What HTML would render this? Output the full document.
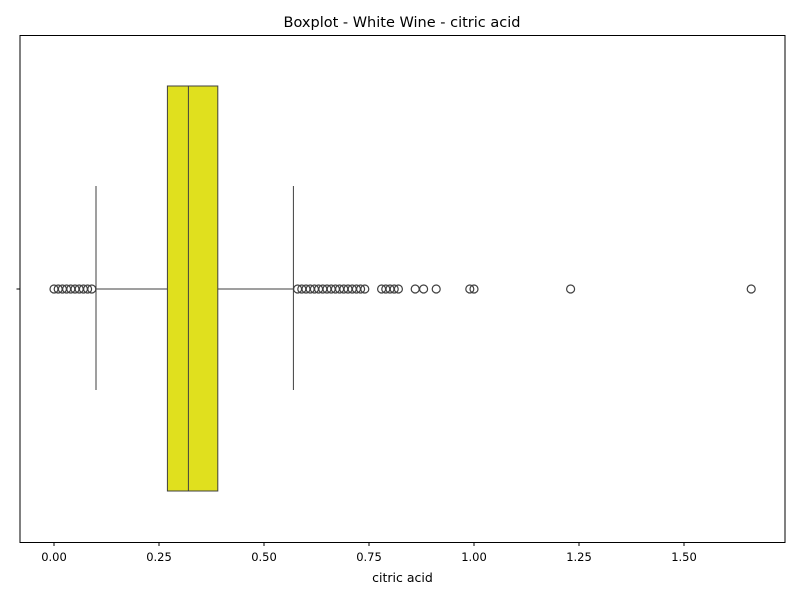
<!DOCTYPE html>
<html><head><meta charset="utf-8"><style>
body{margin:0;background:#fff;font-family:"Liberation Sans","DejaVu Sans",sans-serif}
svg text{font-family:"DejaVu Sans","Liberation Sans",sans-serif}
</style></head><body>
<svg id="chart" width="800" height="600">
<text x="402" y="27" text-anchor="middle" font-size="14.5">Boxplot - White Wine - citric acid</text>
<rect x="20" y="35.5" width="765" height="507" fill="none" stroke="#000" stroke-width="1"/>
<g id="g"></g>
<text x="402.5" y="582" text-anchor="middle" font-size="12.5">citric acid</text>
</svg>
<script>
const tickValues=[0,0.25,0.5,0.75,1.0,1.25,1.5];
const tickLabels=["0.00","0.25","0.50","0.75","1.00","1.25","1.50"];
const q1=[0.27], median=[0.32], q3=[0.39], whiskerLow=[0.10], whiskerHigh=[0.57];
const outliers=[0,0.01,0.02,0.03,0.04,0.05,0.06,0.07,0.08,0.09,
0.58,0.59,0.6,0.61,0.62,0.63,0.64,0.65,0.66,0.67,0.68,0.69,0.7,0.71,0.72,0.73,0.74,
0.78,0.79,0.8,0.81,0.82,0.86,0.88,0.91,0.99,1.0,1.23,1.66];
const xs=v=>54+420*v;
const cy=289, boxTop=86, boxBot=491, wTop=186, wBot=390;
const g=document.getElementById('g');
const NS='http://www.w3.org/2000/svg';
function mk(t,a){const e=document.createElementNS(NS,t);for(const k in a)e.setAttribute(k,a[k]);g.appendChild(e);return e;}
tickValues.forEach((v,i)=>{
 const l=mk('line',{x1:xs(v),x2:xs(v),y1:542.5,y2:546,stroke:'#000'});
 
 
 const t=mk('text',{x:xs(v),y:561,'text-anchor':'middle','font-size':'11.5'});
 t.textContent=tickLabels[i];
 
 
});
const yt=mk('line',{x1:16.5,x2:20,y1:cy,y2:cy,stroke:'#000'});


const wl=mk('line',{x1:xs(whiskerLow[0]),x2:xs(q1[0]),y1:cy,y2:cy,stroke:'#3f3f3f'});


const wh=mk('line',{x1:xs(q3[0]),x2:xs(whiskerHigh[0]),y1:cy,y2:cy,stroke:'#3f3f3f'});


const c1=mk('line',{x1:xs(whiskerLow[0]),x2:xs(whiskerLow[0]),y1:wTop,y2:wBot,stroke:'#3f3f3f'});


const c2=mk('line',{x1:xs(whiskerHigh[0]),x2:xs(whiskerHigh[0]),y1:wTop,y2:wBot,stroke:'#3f3f3f'});


const b=mk('rect',{x:xs(q1[0]),y:boxTop,width:xs(q3[0])-xs(q1[0]),height:boxBot-boxTop,fill:'#e0e01e',stroke:'#3f3f3f'});


const m=mk('line',{x1:xs(median[0]),x2:xs(median[0]),y1:boxTop,y2:boxBot,stroke:'#3f3f3f'});


outliers.forEach(v=>{
 const c=mk('circle',{cx:xs(v),cy:cy,r:4,fill:'none',stroke:'#3f3f3f','stroke-width':1.2});
 
 
});
</script>
</body></html>
